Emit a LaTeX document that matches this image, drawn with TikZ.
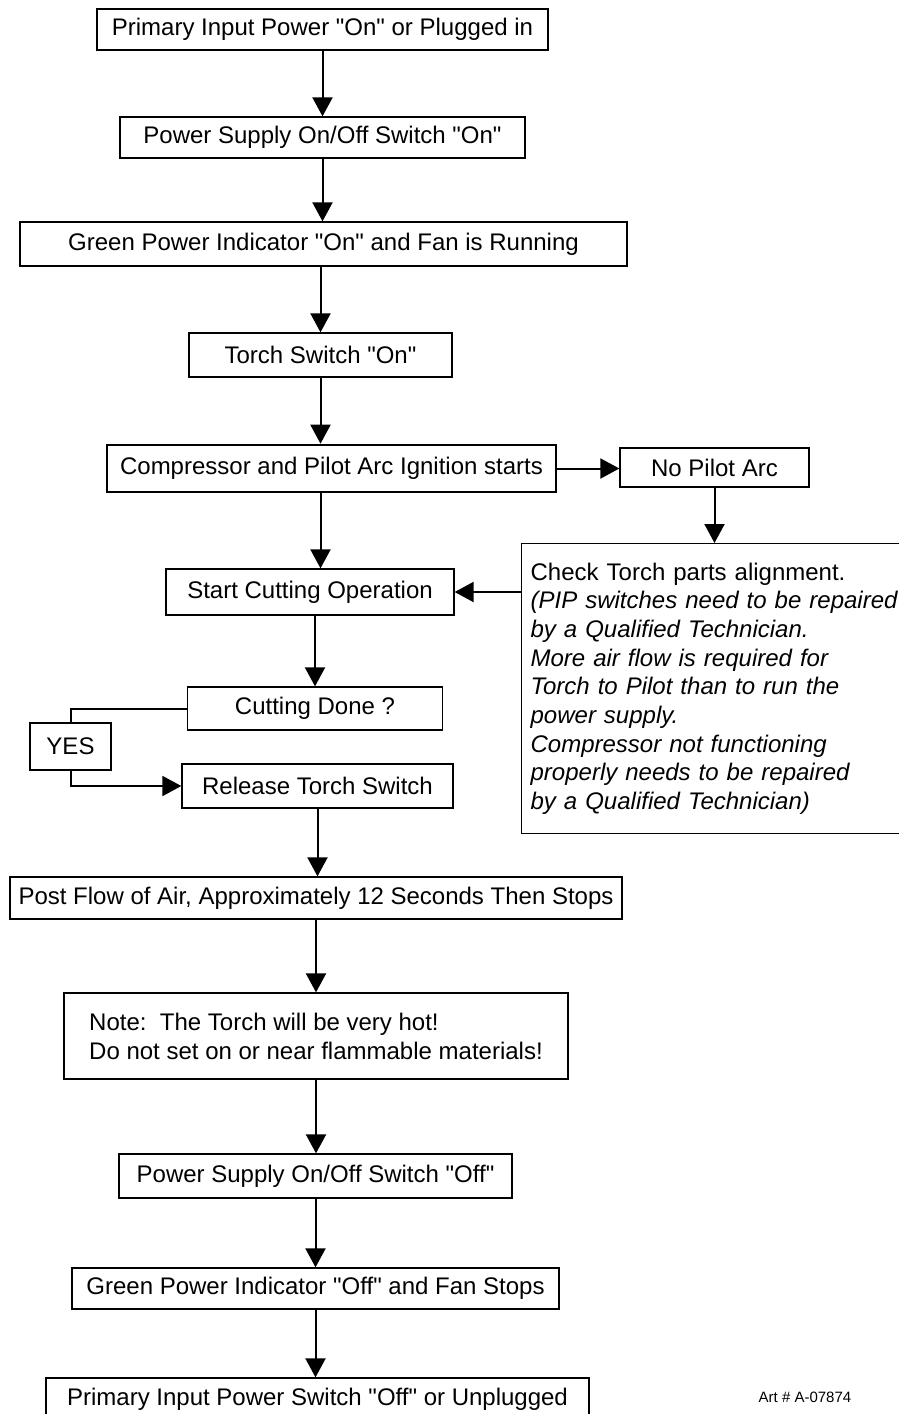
\documentclass[tikz,border=0pt]{standalone}
\usepackage{fontspec}
\setmainfont{Liberation Sans}[Ligatures=TeXOff]
\usetikzlibrary{arrows.meta,calc}

\begin{document}
\begin{tikzpicture}[x=1pt,y=-1pt,
    stepbox/.style={draw, line width=1.3pt, inner sep=0pt, font=\fontsize{24}{29}\selectfont},
    flowarrow/.style={line width=2pt, -{Triangle[width=20pt,length=19pt]}},
    link/.style={line width=2pt}]
  \useasboundingbox (0,0) rectangle (899,1414);

  % main column
  \node[stepbox, minimum width=451pt, minimum height=41pt] (primon) at (322.5,29.5) {Primary Input Power "On" or Plugged in};
  \node[stepbox, minimum width=405pt, minimum height=41pt] (pson) at (322.5,137.5) {Power Supply On/Off Switch "On"};
  \node[stepbox, minimum width=607pt, minimum height=44pt] (greenon) at (323.5,244) {Green Power Indicator "On" and Fan is Running};
  \node[stepbox, minimum width=263pt, minimum height=44pt] (torch) at (320.5,355) {Torch Switch "On"};
  \node[stepbox, line width=2.6pt, minimum width=449pt, minimum height=47pt] (comp) at (331.5,468.5) {Compressor and Pilot Arc Ignition starts};
  \node[stepbox, minimum width=288pt, minimum height=46pt] (start) at (310,592) {Start Cutting Operation};
  \node[stepbox, minimum width=255pt, minimum height=43pt] (done) at (315,708.5) {Cutting Done ?};
  \node[stepbox, minimum width=81pt, minimum height=47pt] (yes) at (70.5,746.5) {YES};
  \node[stepbox, minimum width=271pt, minimum height=44pt] (release) at (317.5,786) {Release Torch Switch};
  \node[stepbox, minimum width=612pt, minimum height=42pt] (post) at (316,898) {Post Flow of Air, Approximately 12 Seconds Then Stops};
  \node[stepbox, minimum width=504pt, minimum height=86pt, align=left] (note) at (316,1036) {Note:\ \ The Torch will be very hot!\\Do not set on or near flammable materials!};
  \node[stepbox, minimum width=393pt, minimum height=44pt] (psoff) at (315.5,1176) {Power Supply On/Off Switch "Off"};
  \node[stepbox, minimum width=487pt, minimum height=41pt] (greenoff) at (315.5,1288.5) {Green Power Indicator "Off" and Fan Stops};
  \node[stepbox, minimum width=543pt, minimum height=42pt] (primoff) at (317.5,1399) {Primary Input Power Switch "Off" or Unplugged};

  % side branch
  \node[stepbox, minimum width=189pt, minimum height=39pt] (nopilot) at (714.5,467.5) {No Pilot Arc};
  \node[stepbox, anchor=north west, minimum height=290pt, text width=380pt, inner xsep=9pt, align=left,
        font=\fontsize{24}{28.7}\selectfont] (check) at (521,543)
    {Check Torch parts alignment.\\
     \itshape (PIP switches need to be repaired\\
     by a Qualified Technician.\\
     More air flow is required for\\
     Torch to Pilot than to run the\\
     power supply.\\
     Compressor not functioning\\
     properly needs to be repaired\\
     by a Qualified Technician)};

  \node[font=\fontsize{15}{18}\selectfont] (artno) at (805,1397) {Art \# A-07874};

  % connectors
  \draw[flowarrow] (primon.south) -- (primon.south |- pson.north);
  \draw[flowarrow] (pson.south) -- (pson.south |- greenon.north);
  \draw[flowarrow] (torch.north |- greenon.south) -- (torch.north);
  \draw[flowarrow] (torch.south) -- (torch.south |- comp.north);
  \draw[flowarrow] (torch.south |- comp.south) -- (torch.south |- start.north);
  \draw[flowarrow] (done.north |- start.south) -- (done.north);
  \draw[link] (done.west) -| (yes.north);
  \draw[flowarrow] (yes.south) |- (release.west);
  \draw[flowarrow] (release.south) -- (release.south |- post.north);
  \draw[flowarrow] (post.south) -- (post.south |- note.north);
  \draw[flowarrow] (note.south) -- (note.south |- psoff.north);
  \draw[flowarrow] (psoff.south) -- (psoff.south |- greenoff.north);
  \draw[flowarrow] (greenoff.south) -- (greenoff.south |- primoff.north);

  \draw[flowarrow] (comp.east) -- (comp.east -| nopilot.west);
  \draw[flowarrow] (nopilot.south) -- (nopilot.south |- check.north);
  \draw[flowarrow] (check.west |- start.east) -- (start.east);
\end{tikzpicture}
\end{document}
